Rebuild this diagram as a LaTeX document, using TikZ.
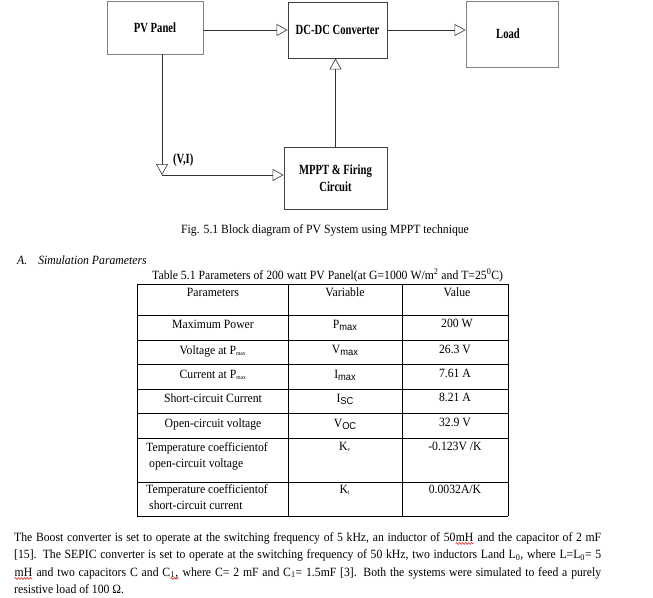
\documentclass[tikz,border=0pt]{standalone}
\usepackage{fontspec}
\setmainfont{Liberation Serif}[FakeStretch=0.93]
\newfontfamily\blkfont{Liberation Serif}[FakeStretch=0.76]
\newfontfamily\subfont{Liberation Sans}[FakeStretch=0.93]
\usetikzlibrary{positioning,arrows.meta,decorations.pathmorphing}
\newcommand\redwave[1]{\tikz[baseline=(w.base), x=1cm, y=1cm]{\node[inner sep=0pt] (w) {#1};
  \draw[red!85!black, line width=0.5pt, decorate, decoration={snake, amplitude=0.9pt, segment length=3pt}] ([yshift=-2.5pt]w.base west) -- ([yshift=-2.5pt]w.base east);}}
\newcommand\bigsub[1]{\raisebox{-2.5pt}{\subfont\fontsize{10}{10}\selectfont #1}}
\newcommand\tinysub[1]{\textsubscript{\fontsize{6}{6}\selectfont #1}}

\begin{document}
\begin{tikzpicture}[x=1pt, y=-1pt,
  blk/.style={draw=black!75, line width=0.9pt, align=center, inner sep=0pt, font=\blkfont\bfseries\fontsize{14}{17}\selectfont},
  flow/.style={draw=black!80, line width=0.6pt, -{Triangle[open, length=11pt, width=12pt, line width=0.6pt]}},
  txt/.style={inner sep=0pt, anchor=base, font=\fontsize{12.6}{17.6}\selectfont},
  rule/.style={line width=0.9pt}]
\useasboundingbox (0,0) rectangle (653,597);

\node[blk, draw=black!50, minimum width=96pt, minimum height=53pt] (pv) at (155,27.5) {PV Panel};
\node[blk, minimum width=99pt, minimum height=56pt] (dcdc) at (337.5,30) {DC-DC Converter};
\node[blk, draw=black!50, minimum width=92pt, minimum height=66pt] (load) at (512,34) {\hspace*{-8pt}Load};
\node[blk, minimum width=103pt, minimum height=62pt] (mppt) at (335.5,178) {MPPT \& Firing\\Circuit};
\coordinate (vi) at (162,175);
\node[inner sep=0pt, anchor=west, font=\blkfont\bfseries\fontsize{14}{17}\selectfont] (vilabel) at (173,160) {(V,I)};

\draw[flow] (pv.east |- dcdc.west) -- (dcdc.west);
\draw[flow] (dcdc.east) -- (dcdc.east -| load.west);
\draw[flow] (mppt.north) -- (mppt.north |- dcdc.south);
\draw[flow] (pv.south -| vi) -- (vi);
\draw[flow] (vi) -- (vi -| mppt.west);

\node[txt, anchor=base west] (fig) at (181,233) {Fig. 5.1 Block diagram of PV System using MPPT technique};
\node[txt, anchor=base west] (sect) at (17,264) {\itshape A.\hspace{11pt}Simulation Parameters};
\node[txt, anchor=base west] (tab) at (152,279) {Table 5.1 Parameters of 200 watt PV Panel(at G=1000 W/m\textsuperscript{2} and T=25\textsuperscript{0}C)};

\foreach \x in {137,288,402,508}
  \draw[rule] (\x,284) -- (\x,516);
\foreach \y in {284,315,340,364,389,413,438,482,516}
  \draw[rule] (137,\y) -- (508,\y);

\node[txt] (par0) at (213,296) {Parameters};
\node[txt] (var0) at (345,296) {Variable};
\node[txt] (val0) at (457,296) {Value};
\node[txt] (par1) at (213,328) {Maximum Power};
\node[txt] (var1) at (345,328) {P\bigsub{max}};
\node[txt] (val1) at (457,327) {200 W};
\node[txt] (par2) at (213,354) {Voltage at P\tinysub{max}};
\node[txt] (var2) at (345,353) {V\bigsub{max}};
\node[txt] (val2) at (455,353) {26.3 V};
\node[txt] (par3) at (213,378) {Current at P\tinysub{max}};
\node[txt] (var3) at (345,378) {I\bigsub{max}};
\node[txt] (val3) at (455,377) {7.61 A};
\node[txt] (par4) at (213,402) {Short-circuit Current};
\node[txt] (var4) at (345,402) {I\bigsub{SC}};
\node[txt] (val4) at (455,401) {8.21 A};
\node[txt] (par5) at (213,427) {Open-circuit voltage};
\node[txt] (var5) at (345,427) {V\bigsub{OC}};
\node[txt] (val5) at (455,426) {32.9 V};
\node[txt, anchor=base west] (par6) at (146,451) {Temperature coefficientof};
\node[txt, anchor=base west] (par6b) at (149,467) {open-circuit voltage};
\node[txt] (var6) at (345,450) {K\tinysub{v}};
\node[txt] (val6) at (455,450) {-0.123V /K};
\node[txt, anchor=base west] (par7) at (146,493) {Temperature coefficientof};
\node[txt, anchor=base west] (par7b) at (149,509) {short-circuit current};
\node[txt] (var7) at (345,493) {K\tinysub{i}};
\node[txt] (val7) at (455,493) {0.0032A/K};

\node[txt, anchor=base west] (line1) at (14,541) {\makebox[587pt][s]{The Boost converter is set to operate at the switching frequency of 5 kHz, an inductor of 50\redwave{mH} and the capacitor of 2 mF}};
\node[txt, anchor=base west] (line2) at (14,558.5) {\makebox[587pt][s]{[15]. The SEPIC converter is set to operate at the switching frequency of 50 kHz, two inductors Land L\textsubscript{0}, where L=L\textsubscript{0}= 5}};
\node[txt, anchor=base west] (line3) at (14,576) {\makebox[587pt][s]{\redwave{mH} and two capacitors C and C\redwave{\textsubscript{1},} where C= 2 mF and C\textsubscript{1}= 1.5mF [3]. Both the systems were simulated to feed a purely}};
\node[txt, anchor=base west] (line4) at (14,593.5) {resistive load of 100 Ω.};
\end{tikzpicture}
\end{document}
